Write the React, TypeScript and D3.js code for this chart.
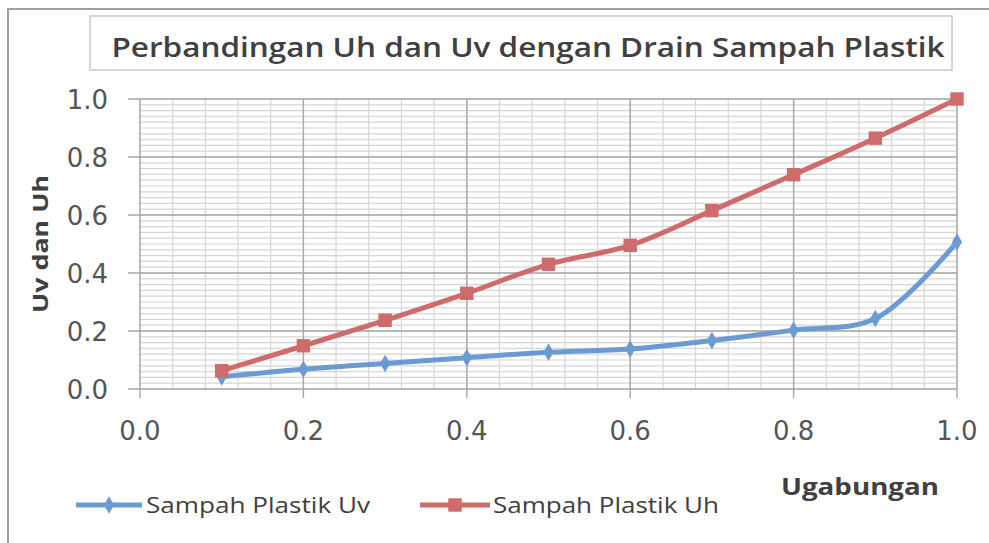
import React from "react";
import * as d3 from "d3";

const xValues = [0.1, 0.2, 0.3, 0.4, 0.5, 0.6, 0.7, 0.8, 0.9, 1.0];
const uvValues = [0.042, 0.068, 0.088, 0.108, 0.127, 0.138, 0.167, 0.203, 0.243, 0.507];
const uhValues = [0.063, 0.149, 0.237, 0.33, 0.43, 0.495, 0.615, 0.739, 0.865, 1.0];
const majorTicks = [0, 0.2, 0.4, 0.6, 0.8, 1.0];
const seriesNames = ["Sampah Plastik Uv", "Sampah Plastik Uh"];

const W = 989;
const H = 543;
const margin = { top: 99, right: 32, bottom: 154, left: 140 };
const blue = "#6b9bd2";
const red = "#cf6b6b";
const textColor = "#404040";
const font = "'Open Sans', 'Liberation Sans', sans-serif";
const tickFont = "'DejaVu Sans', sans-serif";

const App = () => {
  const innerW = W - margin.left - margin.right;
  const innerH = H - margin.top - margin.bottom;

  const x = d3.scaleLinear().domain([0, 1]).range([margin.left, margin.left + innerW]);
  const y = d3.scaleLinear().domain([0, 1]).range([margin.top + innerH, margin.top]);

  const minorX = d3.range(0, 1.0001, 0.04);
  const minorY = d3.range(0, 1.0001, 0.02);

  const line = d3
    .line<number>()
    .x((_, i) => x(xValues[i]))
    .y((d) => y(d))
    .curve(d3.curveCatmullRom.alpha(0.5));

  const diamond = d3.symbol().type(d3.symbolDiamond).size(90)();
  const square = d3.symbol().type(d3.symbolSquare).size(180)();

  return (
    <svg
      width={W}
      height={H}
      style={{ position: "absolute", left: 0, top: 0, background: "#fff" }}
    >
      {/* chart frame */}
      <rect x={8} y={9} width={W + 20} height={H + 20} fill="#fff" stroke="#a0a0a0" strokeWidth={2} />

      {/* title box */}
      <rect x={90} y={16} width={862} height={54} fill="#fff" stroke="#c8c8c8" strokeWidth={1.5} />
      <text
        x={528}
        y={57}
        textAnchor="middle"
        fontFamily={font}
        fontSize={27}
        fontWeight={600}
        fill={textColor}
        textLength={833}
        lengthAdjust="spacingAndGlyphs"
      >
        Perbandingan Uh dan Uv dengan Drain Sampah Plastik
      </text>

      {/* minor gridlines */}
      {minorX.map((v) => (
        <line key={"mx" + v} x1={x(v)} x2={x(v)} y1={y(0)} y2={y(1)} stroke="#d6d6d6" strokeWidth={1.2} />
      ))}
      {minorY.map((v) => (
        <line key={"my" + v} x1={x(0)} x2={x(1)} y1={y(v)} y2={y(v)} stroke="#d6d6d6" strokeWidth={1.2} />
      ))}
      {/* major gridlines + ticks */}
      {majorTicks.map((v) => (
        <g key={"mj" + v}>
          <line x1={x(v)} x2={x(v)} y1={y(1)} y2={y(0) + 9} stroke="#a8a8a8" strokeWidth={1.4} />
          <line x1={x(0) - 12} x2={x(1)} y1={y(v)} y2={y(v)} stroke="#a8a8a8" strokeWidth={1.4} />
          <text
            x={108}
            y={y(v) + 10}
            textAnchor="end"
            fontFamily={tickFont}
            fontSize={26}
            fill="#555"
          >
            {v.toFixed(1)}
          </text>
          <text
            x={x(v)}
            y={440}
            textAnchor="middle"
            fontFamily={tickFont}
            fontSize={26}
            fill="#555"
          >
            {v.toFixed(1)}
          </text>
        </g>
      ))}

      {/* series */}
      <path d={line(uvValues) ?? ""} fill="none" stroke={blue} strokeWidth={5} />
      <path d={line(uhValues) ?? ""} fill="none" stroke={red} strokeWidth={5} />
      {uvValues.map((d, i) => (
        <path key={"uv" + i} d={diamond ?? ""} transform={`translate(${x(xValues[i])},${y(d)})`} fill={blue} />
      ))}
      {uhValues.map((d, i) => (
        <path key={"uh" + i} d={square ?? ""} transform={`translate(${x(xValues[i])},${y(d)})`} fill={red} />
      ))}

      {/* axis titles */}
      <text
        transform={`translate(48,${y(0.5)}) rotate(-90)`}
        textAnchor="middle"
        fontFamily={font}
        fontSize={22}
        fontWeight={700}
        fill={textColor}
        textLength={138}
        lengthAdjust="spacingAndGlyphs"
      >
        Uv dan Uh
      </text>
      <text
        x={860}
        y={495}
        textAnchor="middle"
        fontFamily={font}
        fontSize={23}
        fontWeight={700}
        fill={textColor}
        textLength={158}
        lengthAdjust="spacingAndGlyphs"
      >
        Ugabungan
      </text>

      {/* legend */}
      <g transform="translate(76,505)">
        <line x1={0} x2={66} y1={0} y2={0} stroke={blue} strokeWidth={5} />
        <path d={diamond ?? ""} transform="translate(33,0)" fill={blue} />
        <text x={70} y={8} fontFamily={font} fontSize={21} fill={textColor} textLength={224} lengthAdjust="spacingAndGlyphs">
          {seriesNames[0]}
        </text>
      </g>
      <g transform="translate(420,505)">
        <line x1={0} x2={70} y1={0} y2={0} stroke={red} strokeWidth={5} />
        <path d={square ?? ""} transform="translate(35,0)" fill={red} />
        <text x={73} y={8} fontFamily={font} fontSize={21} fill={textColor} textLength={226} lengthAdjust="spacingAndGlyphs">
          {seriesNames[1]}
        </text>
      </g>
    </svg>
  );
};

export default App;
